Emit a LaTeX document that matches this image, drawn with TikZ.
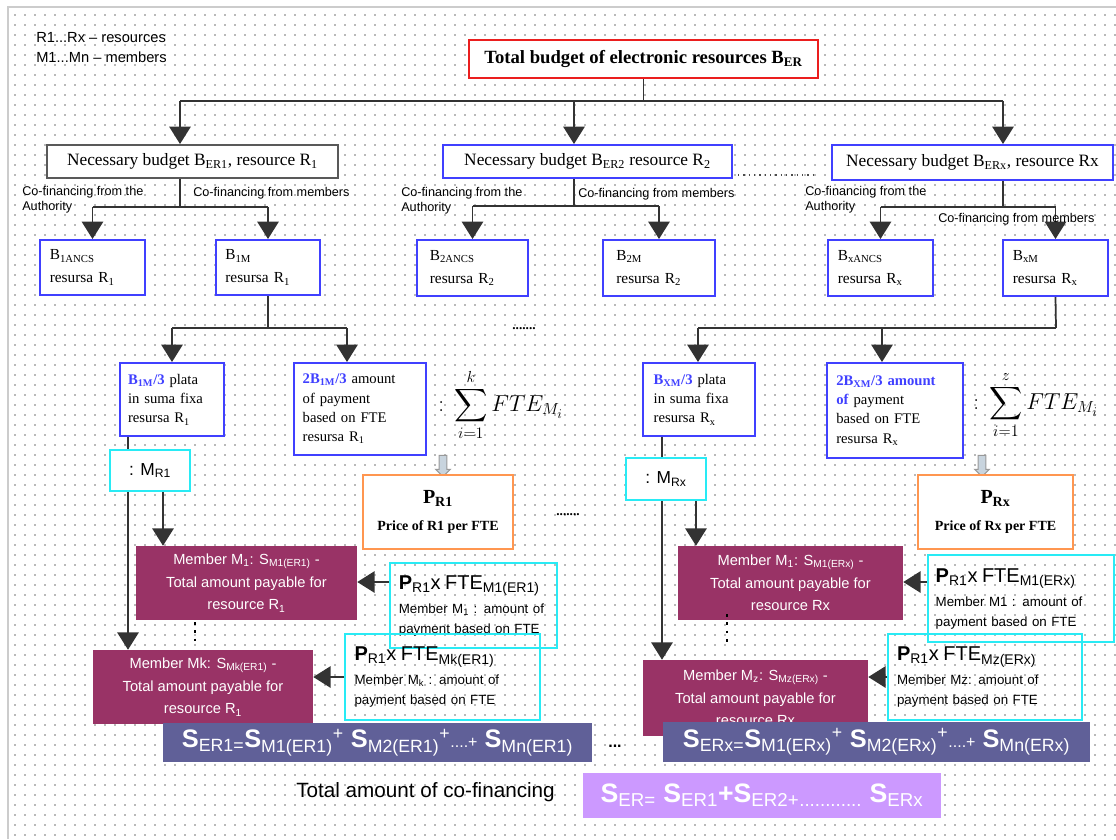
\documentclass[tikz,border=0pt]{standalone}
\usepackage{exscale}
\usepackage{fontspec}
\setmainfont{Liberation Serif}
\setsansfont{Liberation Sans}
\usetikzlibrary{arrows.meta,shapes.arrows}
\definecolor{boxblue}{RGB}{64,64,255}
\definecolor{boxcyan}{RGB}{40,235,245}
\definecolor{topred}{RGB}{235,30,30}
\definecolor{orangec}{RGB}{255,150,80}
\definecolor{maroon}{RGB}{153,51,102}
\definecolor{barc}{RGB}{96,96,152}
\definecolor{purp}{RGB}{204,153,255}
\definecolor{hollow}{RGB}{200,212,222}
\definecolor{dotc}{RGB}{185,185,185}
\newcommand\bx[7]{\node[#6, minimum width={(#4-#2)*0.75pt}, minimum height={(#5-#3)*0.75pt}] (#1) at ({(#2+#4)/2},{(#3+#5)/2}) {#7};}
\begin{document}
\begin{tikzpicture}[x=0.75pt,y=-0.75pt,
 conn/.style={draw=black!80, line width=1.3pt},
 arr/.style={conn,-{Triangle[width=16pt,length=13pt]}},
 box/.style={draw, line width=1.5pt, fill=white, inner sep=0pt},
 bbox/.style={box, draw=boxblue},
 cbox/.style={draw=boxcyan, line width=1.5pt, inner sep=0pt, align=left, font=\sffamily\fontsize{10}{15}\selectfont},
 mbox/.style={fill=maroon, inner sep=0pt, text=white, align=center, font=\sffamily\fontsize{11}{17}\selectfont},
 lbl/.style={font=\sffamily\fontsize{9.5}{11}\selectfont, anchor=west, inner sep=0pt, align=left},
 btxt/.style={align=left, text width=64pt, font=\fontsize{11.5}{17}\selectfont},
 ptxt/.style={align=left, font=\fontsize{11}{14.5}\selectfont},
 rowtxt/.style={font=\fontsize{13}{15}\selectfont},
 barbox/.style={fill=barc, inner sep=0pt, text=white, font=\sffamily\fontsize{19}{22}\selectfont},
]
\useasboundingbox (0,0) rectangle (1116,839);
\fill[white] (0,0) rectangle (1116,839);
\foreach \yy in {15,25,...,835} \draw[dotc, line width=1.1pt, dash pattern=on 1.1pt off 6.4pt] (14.3,\yy) -- (1116,\yy);
\draw[gray!40, line width=1pt] (8,839) -- (8,7) -- (1116,7);

% legend
\node[anchor=west, inner sep=0pt, font=\sffamily\fontsize{11}{13}\selectfont] (leg1) at (36,38) {R1...Rx – resources};
\node[anchor=west, inner sep=0pt, font=\sffamily\fontsize{11}{13}\selectfont] (leg2) at (36,57) {M1...Mn – members};

% top
\bx{top}{469}{40}{818}{78}{box, draw=topred, font=\bfseries\fontsize{14}{16}\selectfont}{Total budget of electronic resources B\textsubscript{ER}}

% row 2
\bx{nb1}{47}{145}{338}{178}{box, draw=black!65, rowtxt}{Necessary budget B\textsubscript{ER1}, resource R\textsubscript{1}}
\bx{nb2}{443}{145}{732}{178}{bbox, rowtxt}{Necessary budget B\textsubscript{ER2} resource R\textsubscript{2}}
\bx{nb3}{832}{145}{1113}{180}{bbox, rowtxt}{Necessary budget B\textsubscript{ERx}, resource Rx}
\coordinate (tL) at (180,101); \coordinate (tM) at (574,101); \coordinate (tR) at (1003,101);
\draw[conn] (top.south) -- (top.south |- tL);
\draw[conn] (tL) -- (tR);
\draw[arr] (tL) -- (tL |- nb1.north);
\draw[arr] (tM) -- (tM |- nb2.north);
\draw[arr] (tR) -- (tR |- nb3.north);
\coordinate (d1) at (738,175); \coordinate (d2) at (818,175);
\draw[black!70, line width=1pt, dash pattern=on 1pt off 3pt] (d1) -- (d2);

% row 3
\bx{b1a}{40}{240}{145}{295}{bbox, btxt}{B\textsubscript{1ANCS}\\resursa R\textsubscript{1}}
\bx{b1b}{216}{240}{320}{295}{bbox, btxt}{B\textsubscript{1M}\\resursa R\textsubscript{1}}
\bx{b2a}{417}{240}{528}{296}{bbox, btxt}{B\textsubscript{2ANCS}\\resursa R\textsubscript{2}}
\bx{b2b}{603}{240}{715}{296}{bbox, btxt}{B\textsubscript{2M}\\resursa R\textsubscript{2}}
\bx{b3a}{828}{240}{933}{296}{bbox, btxt}{B\textsubscript{xANCS}\\resursa R\textsubscript{x}}
\bx{b3b}{1003}{240}{1108}{296}{bbox, btxt}{B\textsubscript{xM}\\resursa R\textsubscript{x}}
\coordinate (f1) at (180,207); \coordinate (f2) at (574,206); \coordinate (f3) at (1003,207);
\foreach \f/\n/\a/\b in {f1/nb1/b1a/b1b, f2/nb2/b2a/b2b, f3/nb3/b3a/b3b}{
 \draw[conn] (\f |- \n.south) -- (\f);
 \draw[conn] (\a.north |- \f) -- (\b.north |- \f);
 \draw[arr] (\a.north |- \f) -- (\a.north);
 \draw[arr] (\b.north |- \f) -- (\b.north);
}
\node[lbl] (cfa1) at (22,200) {Co-financing from the\\Authority};
\node[lbl] (cfm1) at (193,193) {Co-financing from members};
\node[lbl] (cfa2) at (401,201) {Co-financing from the\\Authority};
\node[lbl] (cfm2) at (578,194) {Co-financing from members};
\node[lbl] (cfa3) at (805,200) {Co-financing from the\\Authority};
\node[lbl] (cfm3) at (938,219) {Co-financing from members};

% row 4
\bx{p1a}{120}{363}{224}{436}{bbox, ptxt, text width=66pt}{\textcolor{boxblue}{\textbf{B\textsubscript{1M}/3}} plata\\in suma fixa\\resursa R\textsubscript{1}}
\bx{p1b}{294}{363}{426}{455}{bbox, ptxt, text width=86pt}{\textcolor{boxblue}{\textbf{2B\textsubscript{1M}/3}} amount\\of payment\\based on FTE\\resursa R\textsubscript{1}}
\bx{q1a}{643}{363}{755}{436}{bbox, ptxt, text width=68pt}{\textcolor{boxblue}{\textbf{B\textsubscript{XM}/3}} plata\\in suma fixa\\resursa R\textsubscript{x}}
\bx{q1b}{827}{363}{963}{458}{bbox, ptxt, text width=88pt}{\textcolor{boxblue}{\textbf{2B\textsubscript{XM}/3 amount}}\\\textcolor{boxblue}{\textbf{of}} payment\\based on FTE\\resursa R\textsubscript{x}}
\coordinate (gL) at (268,328); \coordinate (gLa) at (172,328); \coordinate (gLb) at (347,328);
\draw[conn] (b1b.south) -- (gL);
\draw[conn] (gLa) -- (gLb);
\draw[arr] (gLa) -- (gLa |- p1a.north);
\draw[arr] (gLb) -- (gLb |- p1b.north);
\coordinate (gR) at (1056,328); \coordinate (gRa) at (698,328); \coordinate (gRb) at (882,328);
\draw[conn] (b3b.south) -- (gR);
\draw[conn] (gRa) -- (gR);
\draw[arr] (gRa) -- (gRa |- q1a.north);
\draw[arr] (gRb) -- (gRb |- q1b.north);
\node[anchor=west, inner sep=0pt, font=\LARGE] (sum1) at (438,405) {$:\,\displaystyle\sum_{i=1}^{k} FTE_{M_i}$};
\node[anchor=west, inner sep=0pt, font=\LARGE] (sum2) at (973,405) {$:\,\displaystyle\sum_{i=1}^{z} FTE_{M_i}$};
\node[inner sep=0pt, font=\bfseries] (el1) at (524,329) {.......};

% M boxes
\bx{mr1}{110}{450}{190}{491}{box, draw=boxcyan, font=\sffamily\fontsize{13}{15}\selectfont}{: M\textsubscript{R1}}
\bx{mrx}{626}{458}{706}{500}{box, draw=boxcyan, font=\sffamily\fontsize{13}{15}\selectfont}{: M\textsubscript{Rx}}
\coordinate (x128) at (128,0); \coordinate (x163) at (163,0);
\coordinate (x662) at (662,0); \coordinate (x696) at (696,0);
\draw[conn] (p1a.south -| x128) -- (mr1.north -| x128);
\draw[conn] (q1a.south -| x662) -- (mrx.north -| x662);

% hollow arrows and price boxes
\node[single arrow, draw=gray!80, fill=hollow, line width=0.8pt, shape border rotate=270, minimum height=16pt, minimum width=11pt, single arrow head extend=2.5pt, inner sep=2.5pt] (ha1) at (443,464) {};
\node[single arrow, draw=gray!80, fill=hollow, line width=0.8pt, shape border rotate=270, minimum height=16pt, minimum width=11pt, single arrow head extend=2.5pt, inner sep=2.5pt] (ha2) at (982,464) {};
\bx{pr1}{363}{475}{513}{549}{box, draw=orangec, align=center}{{\fontsize{15}{17}\selectfont\textbf{P\textsubscript{R1}}}\\[8pt]{\fontsize{10.5}{11}\selectfont\textbf{Price of R1 per FTE}}}
\bx{prx}{918}{475}{1073}{549}{box, draw=orangec, align=center}{{\fontsize{15}{17}\selectfont\textbf{P\textsubscript{Rx}}}\\[8pt]{\fontsize{10.5}{11}\selectfont\textbf{Price of Rx per FTE}}}
\node[inner sep=0pt, font=\bfseries] (el2) at (568,515) {.......};

% maroon boxes
\bx{ml1}{136}{546}{357}{620}{mbox}{Member M\textsubscript{1}: S\textsubscript{M1(ER1)} -\\Total amount payable for\\resource R\textsubscript{1}}
\bx{ml2}{93}{650}{313}{724}{mbox}{Member Mk: S\textsubscript{Mk(ER1)} -\\Total amount payable for\\resource R\textsubscript{1}}
\bx{mx1}{678}{546}{903}{620}{mbox}{Member M\textsubscript{1}: S\textsubscript{M1(ERx)} -\\Total amount payable for\\resource Rx}
\bx{mx2}{643}{660}{868}{736}{mbox}{Member M\textsubscript{z}: S\textsubscript{Mz(ERx)} -\\Total amount payable for\\resource Rx}
\draw[arr] (mr1.south -| x163) -- (ml1.north -| x163);
\draw[arr] (mr1.south -| x128) -- (ml2.north -| x128);
\draw[arr] (mrx.south -| x696) -- (mx1.north -| x696);
\draw[arr] (mrx.south -| x662) -- (mx2.north -| x662);
\draw[black, line width=2.2pt, dash pattern=on 2.2pt off 4pt] (195,622) -- (195,644);
\draw[black, line width=2.2pt, dash pattern=on 2.2pt off 4pt] (727,614) -- (727,646);

% cyan boxes
\bx{cl1}{390}{563}{557}{648}{cbox, text width=112pt}{{\fontsize{15}{17}\selectfont\textbf{P}\textsubscript{R1}x FTE\textsubscript{M1(ER1)}}\\[3pt]Member M\textsubscript{1} : amount of\\payment based on FTE}
\bx{cl2}{345}{634}{540}{720}{cbox, text width=132pt}{{\fontsize{15}{17}\selectfont\textbf{P}\textsubscript{R1}x FTE\textsubscript{Mk(ER1)}}\\[3pt]Member M\textsubscript{k} : amount of\\payment based on FTE}
\bx{cx1}{928}{555}{1114}{642}{cbox, text width=128pt}{{\fontsize{15}{17}\selectfont\textbf{P}\textsubscript{R1}x FTE\textsubscript{M1(ERx)}}\\[3pt]Member M1 : amount of\\payment based on FTE}
\bx{cx2}{888}{634}{1082}{720}{cbox, text width=132pt}{{\fontsize{15}{17}\selectfont\textbf{P}\textsubscript{R1}x FTE\textsubscript{Mz(ERx)}}\\[3pt]Member Mz: amount of\\payment based on FTE}
\coordinate (yA) at (0,582); \coordinate (yB) at (0,677);
\draw[arr] (cl1.west |- yA) -- (ml1.east |- yA);
\draw[arr] (cl2.west |- yB) -- (ml2.east |- yB);
\draw[arr] (cx1.west |- yA) -- (mx1.east |- yA);
\draw[arr] (cx2.west |- yB) -- (mx2.east |- yB);

% sum bars
\bx{sl}{163}{723}{592}{762}{barbox}{\textbf{S}\textsubscript{ER1=}\textbf{S}\textsubscript{M1(ER1)}\textsuperscript{+} \textbf{S}\textsubscript{M2(ER1)}\textsuperscript{+}{\fontsize{12}{12}\selectfont....+} \textbf{S}\textsubscript{Mn(ER1)}}
\bx{sr}{663}{722}{1090}{762}{barbox}{\textbf{S}\textsubscript{ERx=}\textbf{S}\textsubscript{M1(ERx)}\textsuperscript{+} \textbf{S}\textsubscript{M2(ERx)}\textsuperscript{+}{\fontsize{12}{12}\selectfont....+} \textbf{S}\textsubscript{Mn(ERx)}}
\node[inner sep=0pt, font=\sffamily\bfseries\fontsize{12}{14}\selectfont] (el3) at (615,746) {...};

% total
\node[anchor=west, inner sep=0pt, font=\sffamily\fontsize{15.5}{17}\selectfont] (tot) at (296,792) {Total amount of co-financing};
\bx{ser}{583}{773}{941}{818}{fill=purp, inner sep=0pt, text=white, font=\sffamily\fontsize{20}{22}\selectfont}{\textbf{S}\textsubscript{ER=} \textbf{S}\textsubscript{ER1}\textbf{+S}\textsubscript{ER2+}\textsubscript{............} \textbf{S}\textsubscript{ERx}}
\end{tikzpicture}
\end{document}
